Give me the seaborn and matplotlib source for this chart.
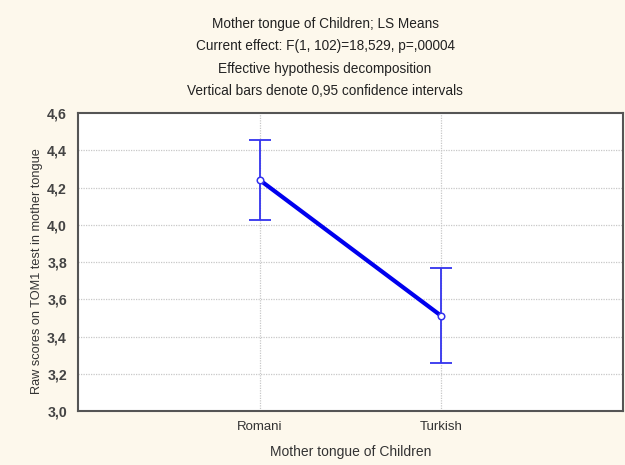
import matplotlib
matplotlib.use("Agg")
import matplotlib.pyplot as plt
import numpy as np
import pandas as pd
import seaborn as sns

# LS means and 0.95 CI
groups = ["Romani", "Turkish"]
means = [4.24, 3.51]
ci_low = [4.025, 3.26]
ci_high = [4.455, 3.77]

title_lines = [
    "Mother tongue of Children; LS Means",
    "Current effect: F(1, 102)=18,529, p=,00004",
    "Effective hypothesis decomposition",
    "Vertical bars denote 0,95 confidence intervals",
]
yticks = [3.0, 3.2, 3.4, 3.6, 3.8, 4.0, 4.2, 4.4, 4.6]

sns.set_style("white")
plt.rcParams["font.family"] = ["Liberation Sans", "DejaVu Sans"]

bg = "#fdf8ec"

df = pd.DataFrame({"pos": np.arange(len(groups)), "mean": means})

fig = plt.figure(figsize=(6.25, 4.65), dpi=100, facecolor=bg)
ax = fig.add_axes([0.125, 0.116, 0.872, 0.641])
ax.set_facecolor("white")

# grid
for y in yticks[1:-1]:
    ax.axhline(y, color="#c8c8c8", lw=0.9, ls=(0, (1, 1)), zorder=0)
for x in df["pos"]:
    ax.axvline(x, color="#c8c8c8", lw=0.9, ls=(0, (1, 1)), zorder=0)

sns.lineplot(data=df, x="pos", y="mean", color="#0000ee", lw=3, ax=ax, zorder=3)
yerr = [np.array(means) - np.array(ci_low), np.array(ci_high) - np.array(means)]
ax.errorbar(df["pos"], means, yerr=yerr, fmt="none", ecolor="#3333ee",
            elinewidth=1.3, capsize=8, capthick=1.3, zorder=4)
ax.scatter(df["pos"], means, s=22, facecolor="white", edgecolor="#3333ee",
           linewidth=1.1, zorder=5)

ax.set_xlim(-1, 2)
ax.set_ylim(3.0, 4.6)
ax.set_xticks(df["pos"])
ax.set_xticklabels(groups)
ax.set_yticks(yticks)
ax.set_yticklabels([f"{v:.1f}".replace(".", ",") for v in yticks])
ax.tick_params(axis="both", labelsize=9.5, colors="#333333", length=3,
               width=1, direction="out")
ax.tick_params(axis="x", pad=4)
ax.tick_params(axis="y", labelsize=10.2, pad=5)
for lab in ax.get_yticklabels():
    lab.set_fontweight("bold")
    lab.set_color("#444444")
for s in ax.spines.values():
    s.set_color("#555555")
    s.set_linewidth(1.5)

ax.set_xlabel("Mother tongue of Children", fontsize=10, color="#333333")
ax.xaxis.set_label_coords(0.5, -0.114)
ax.set_ylabel("Raw scores on TOM1 test in mother tongue", fontsize=9.2,
              color="#333333")
ax.yaxis.set_label_coords(-0.064, 0.47)

for i, line in enumerate(title_lines):
    fig.text(0.52, 1 - (24 + 22.3 * i) / 465, line, ha="center", va="center",
             fontsize=9.8, color="#222222")

fig.savefig("out.png", dpi=100, facecolor=bg)
